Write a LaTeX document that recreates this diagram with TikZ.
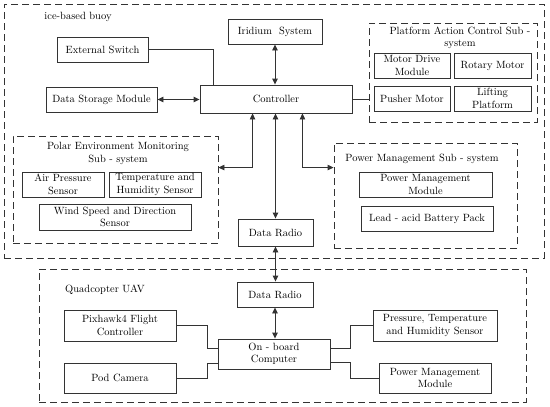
\documentclass[tikz,border=0pt]{standalone}
\usepackage{tikz}
\usetikzlibrary{positioning,backgrounds,arrows.meta}
\definecolor{traitgris}{rgb}{0.2,0.2,0.2}

\begin{document}
\begin{tikzpicture}[x=1pt,y=-1pt]
        \tikzset{
          boite/.style={
            fill=white,draw=traitgris,align=center,line width=0.9pt,
            font=\fontsize{10.5}{12.5}\selectfont,text=black,inner sep=0pt,
          },
          groupe/.style={
            draw=traitgris,line width=0.9pt,dash pattern=on 7pt off 4pt,
          },
          titre/.style={align=center,font=\fontsize{10.5}{12.5}\selectfont,text=black},
          fil/.style={line width=0.9pt,draw=traitgris},
          fleche/.style={fil,{Triangle[length=6pt,width=5.5pt]}-{Triangle[length=6pt,width=5.5pt]}},
          }
        \useasboundingbox (0,0) rectangle (550,407);
        % dashed groups
        \node[groupe, minimum width=540, minimum height=254] (buoy) at (274,131) {};
        \node[groupe, minimum width=168, minimum height=99] (pacs) at (453,72.5) {};
        \node[groupe, minimum width=205, minimum height=107] (pem) at (115.5,189.5) {};
        \node[groupe, minimum width=183, minimum height=105] (pms) at (425.5,195.5) {};
        \node[groupe, minimum width=487, minimum height=133] (uav) at (282.5,335.5) {};
        \node[titre] (tbuoy) at (78,17) {ice-based buoy};
        \node[titre] (tpacs) at (460,38) {Platform Action Control Sub -\\system};
        \node[titre] (tpem) at (118,153.5) {Polar Environment Monitoring\\Sub - system};
        \node[titre] (tpms) at (422,159) {Power Management Sub - system};
        \node[titre] (tuav) at (105,290) {Quadcopter UAV};

        % buoy
        \node[boite, minimum width=91, minimum height=25] (ext) at (102.5,49.5) {External Switch};
        \node[boite, minimum width=94, minimum height=25] (irid) at (275,31.5) {Iridium~ System};
        \node[boite, minimum width=111, minimum height=25] (store) at (101.5,99.5) {Data Storage Module};
        \node[boite, minimum width=152, minimum height=28] (ctrl) at (276,99) {Controller};
        \node[boite, minimum width=76, minimum height=25] (mdm) at (412,65.5) {Motor Drive\\Module};
        \node[boite, minimum width=77, minimum height=25] (rot) at (492.5,65.5) {Rotary Motor};
        \node[boite, minimum width=76, minimum height=25] (push) at (412,98.5) {Pusher Motor};
        \node[boite, minimum width=77, minimum height=25] (lift) at (492.5,98.5) {Lifting\\Platform};
        \node[boite, minimum width=82, minimum height=25] (air) at (63,184.5) {Air Pressure\\Sensor};
        \node[boite, minimum width=92, minimum height=25] (temp) at (155,184.5) {Temperature and\\Humidity Sensor};
        \node[boite, minimum width=152, minimum height=26] (wind) at (115,217) {Wind Speed and Direction\\Sensor};
        \node[boite, minimum width=133, minimum height=25] (pmm) at (425.5,184.5) {Power Management\\Module};
        \node[boite, minimum width=132, minimum height=25] (lead) at (427,218.5) {Lead - acid Battery Pack};
        \node[boite, minimum width=75, minimum height=27] (radioa) at (275.5,232.5) {Data Radio};

        % UAV
        \node[boite, minimum width=76, minimum height=25] (radiob) at (275,294.5) {Data Radio};
        \node[boite, minimum width=112, minimum height=30] (obc) at (274,354) {On - board\\Computer};
        \node[boite, minimum width=112, minimum height=31] (pix) at (120,325.5) {Pixhawk4 Flight\\Controller};
        \node[boite, minimum width=112, minimum height=30] (pod) at (120,378) {Pod Camera};
        \node[boite, minimum width=124, minimum height=31] (sens) at (435,325.5) {Pressure, Temperature\\and Humidity Sensor};
        \node[boite, minimum width=112, minimum height=30] (pmmb) at (435,378) {Power Management\\Module};

        \begin{scope}[on background layer]
            \draw[fil] (ext.east) -| ([xshift=14pt]ctrl.north west);
            \draw[fleche] (irid.south) -- (irid.south |- ctrl.north);
            \draw[fleche] (store.east) -- (store.east -| ctrl.west);
            \draw[fil] (ctrl.east) -- (ctrl.east -| pacs.west);
            \draw[fleche] ([xshift=53pt]ctrl.south west) |- ([yshift=-32pt]pem.north east);
            \draw[fleche] ([xshift=-50pt]ctrl.south east) |- ([yshift=-25pt]pms.north west);
            \draw[fleche] (radioa.north) -- (radioa.north |- ctrl.south);
            \draw[fleche] (radioa.south) -- (radioa.south |- radiob.north);
            \draw[fleche] (radiob.south) -- (radiob.south |- obc.north);
            \draw[fil] (pix.east) -- ++(31,0) |- ([yshift=6pt]obc.west);
            \draw[fil] (pod.east) -- ++(31,0) |- ([yshift=-9pt]obc.west);
            \draw[fil] ([yshift=6pt]obc.east) -- ++(20,0) |- (sens.west);
            \draw[fil] ([yshift=-8pt]obc.east) -- ++(20,0) |- (pmmb.west);
        \end{scope}
      \end{tikzpicture}
\end{document}
